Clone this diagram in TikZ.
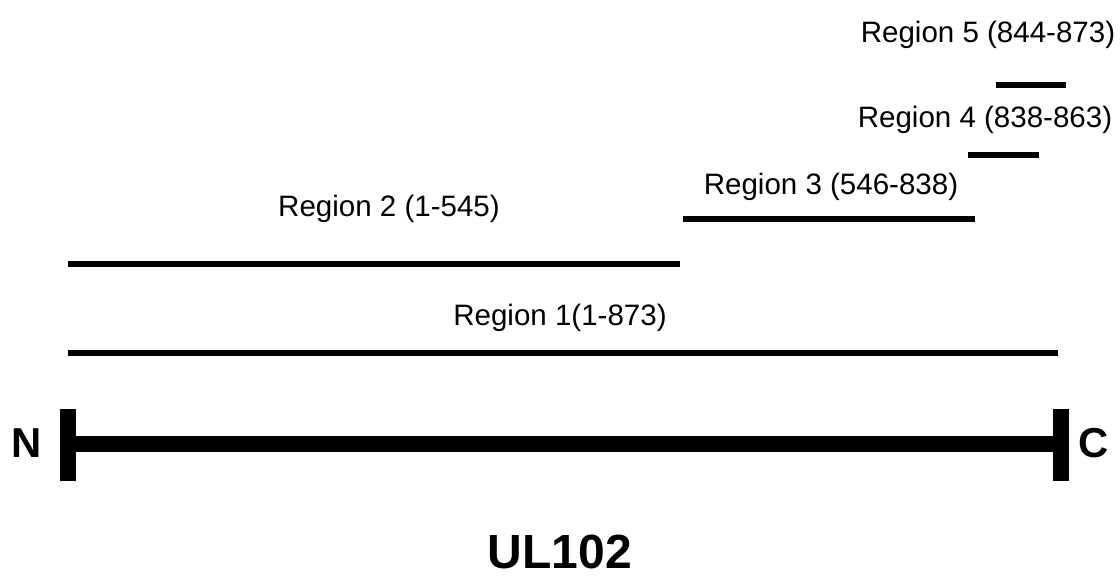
\documentclass[tikz,border=0pt]{standalone}
\usepackage{fontspec}
\setmainfont{Liberation Sans}
\usetikzlibrary{positioning}

\begin{document}
\begin{tikzpicture}[
        x=0.4064pt,
        y=-0.4064pt,
        tramo/.style={
            line width=2.3pt
        },
        proteina/.style={
            line width=6.6pt
        },
        extremo/.style={
            line width=6.8pt
        },
        etiqueta/.style={
            font=\fontsize{12}{14}\selectfont,
            inner sep=0pt
        },
        terminal/.style={
            font=\bfseries\fontsize{17}{20}\selectfont,
            inner sep=0pt
        }
    ]

    \useasboundingbox (0,0) rectangle (1120,578);

    % extremos de la proteina
    \coordinate (izq) at (68,444);
    \coordinate (der) at (1061,444);

    \draw[proteina] (izq) -- (der);
    \draw[extremo] (68,409) -- (68,481);
    \draw[extremo] (1061,409) -- (1061,481);

    \node[terminal] (nterm) at (27,443) {N};
    \node[terminal] (cterm) at (1094,443) {C};

    \node[terminal, font=\bfseries\fontsize{19.5}{22}\selectfont] (nombre) at (560,552) {UL102};

    % regiones
    \draw[tramo] (68,353) -- (1058,353);
    \node[etiqueta] (reg1) at (560,318) {Region 1(1-873)};

    \draw[tramo] (68,264) -- (680,264);
    \node[etiqueta] (reg2) at (389,209) {Region 2 (1-545)};

    \draw[tramo] (683,219) -- (975,219);
    \node[etiqueta] (reg3) at (831,187) {Region 3 (546-838)};

    \draw[tramo] (968,155) -- (1039,155);
    \node[etiqueta] (reg4) at (985,120) {Region 4 (838-863)};

    \draw[tramo] (996,85) -- (1066,85);
    \node[etiqueta] (reg5) at (988,35) {Region 5 (844-873)};

    \end{tikzpicture}
\end{document}
